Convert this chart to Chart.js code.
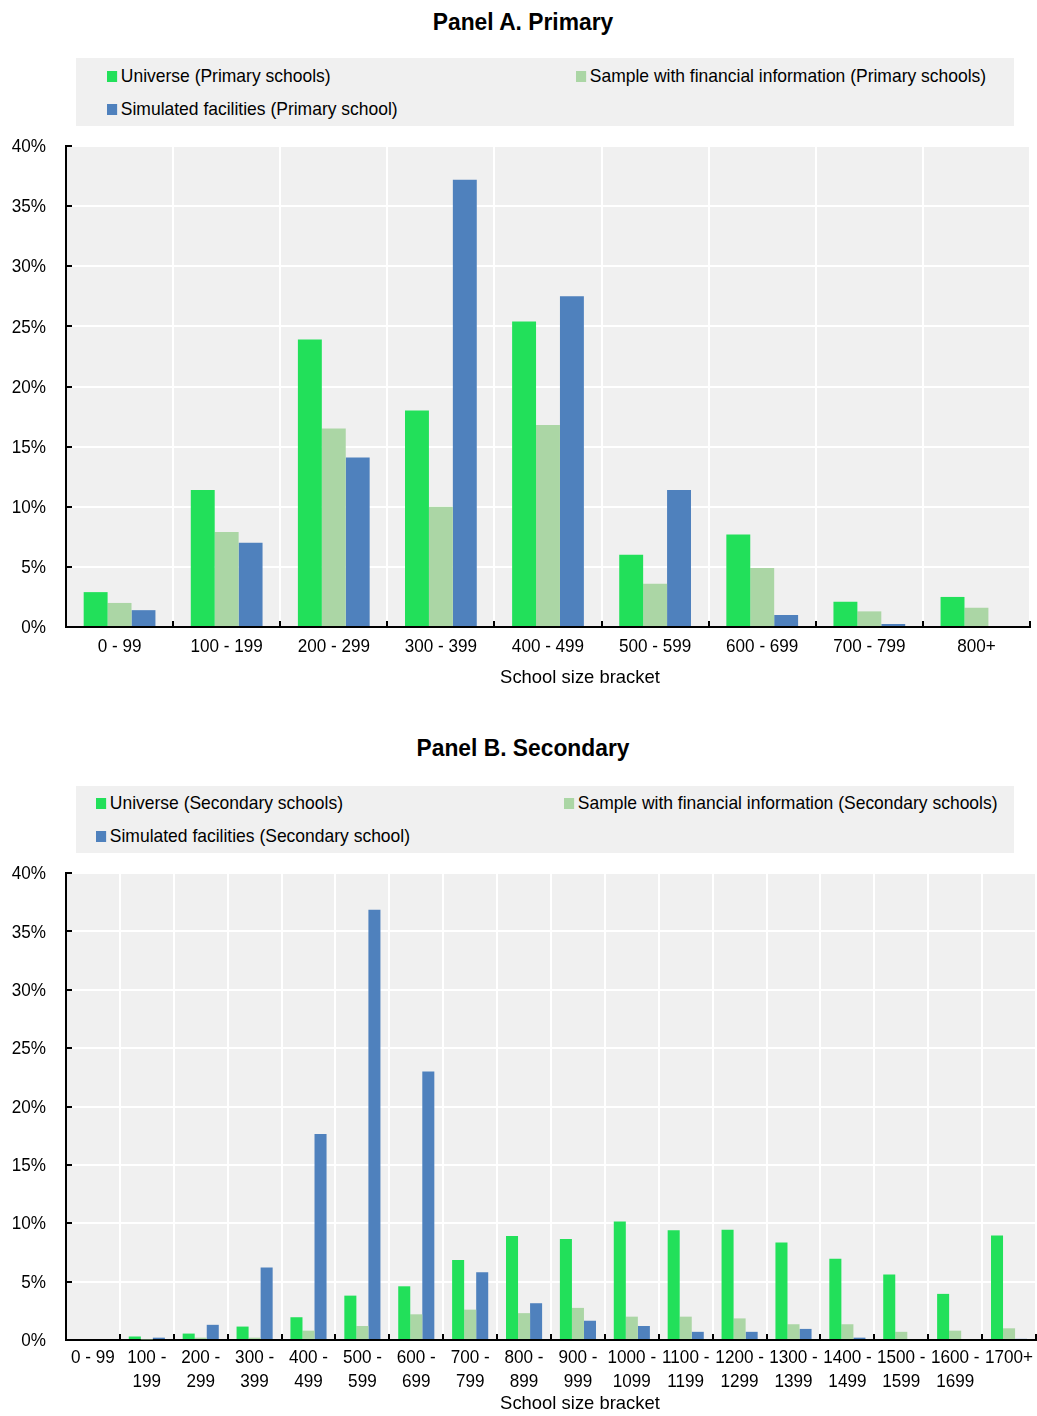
<!DOCTYPE html>
<html>
<head>
<meta charset="utf-8">
<script src="https://cdn.jsdelivr.net/npm/chart.js@4"></script>
<style>
  html, body { margin:0; padding:0; background:#fff; }
  body { width:1037px; height:1416px; position:relative; overflow:hidden;
         font-family:"Liberation Sans", Arial, sans-serif; color:#000; }
  .title { position:absolute; left:0; width:1046px; text-align:center; font-weight:bold; font-size:24px; line-height:28px; transform:scaleX(0.95); transform-origin:523px 0; }
  .legend { position:absolute; left:76px; width:938px; background:#f0f0f0; }
  .item { position:absolute; font-size:19px; line-height:22px; white-space:nowrap; transform:scaleX(0.92); transform-origin:0 0; }
  .sw { display:inline-block; width:11px; height:11px; margin-right:4px; vertical-align:0px; }
  .axtitle { position:absolute; width:300px; text-align:center; font-size:19px; line-height:22px; transform:scaleX(0.97); }
  canvas { position:absolute; left:0; }
</style>
</head>
<body>
<div class="title" style="top:8px;">Panel A. Primary</div>
<div class="legend" style="top:58px;height:68px;">
  <div class="item" style="left:31px;top:7px;"><span class="sw" style="background:#22E05A"></span>Universe (Primary schools)</div>
  <div class="item" style="left:500px;top:7px;"><span class="sw" style="background:#ABD6A5"></span>Sample with financial information (Primary schools)</div>
  <div class="item" style="left:31px;top:40px;"><span class="sw" style="background:#4F81BD"></span>Simulated facilities (Primary school)</div>
</div>
<canvas id="cA" width="1037" height="540" style="top:136px;"></canvas>
<div class="axtitle" style="left:430px;top:666px;">School size bracket</div>

<div class="title" style="top:734px;">Panel B. Secondary</div>
<div class="legend" style="top:786px;height:67px;">
  <div class="item" style="left:20px;top:6px;"><span class="sw" style="background:#22E05A"></span>Universe (Secondary schools)</div>
  <div class="item" style="left:488px;top:6px;"><span class="sw" style="background:#ABD6A5"></span>Sample with financial information (Secondary schools)</div>
  <div class="item" style="left:20px;top:39px;"><span class="sw" style="background:#4F81BD"></span>Simulated facilities (Secondary school)</div>
</div>
<canvas id="cB" width="1037" height="540" style="top:863px;"></canvas>
<div class="axtitle" style="left:430px;top:1392px;">School size bracket</div>

<script>
// ---------- Data ----------
const categoriesA = ['0 - 99','100 - 199','200 - 299','300 - 399','400 - 499','500 - 599','600 - 699','700 - 799','800+'];
const universeA   = [2.9, 11.4, 23.9, 18.0, 25.4, 6.0, 7.7, 2.1, 2.5];
const sampleA     = [2.0, 7.9, 16.5, 10.0, 16.8, 3.6, 4.9, 1.3, 1.6];
const simulatedA  = [1.4, 7.0, 14.1, 37.2, 27.5, 11.4, 1.0, 0.25, 0];

const categoriesB = ['0 - 99',['100 -','199'],['200 -','299'],['300 -','399'],['400 -','499'],['500 -','599'],
  ['600 -','699'],['700 -','799'],['800 -','899'],['900 -','999'],['1000 -','1099'],['1100 -','1199'],
  ['1200 -','1299'],['1300 -','1399'],['1400 -','1499'],['1500 -','1599'],['1600 -','1699'],'1700+'];
const universeB   = [0, 0.3, 0.55, 1.15, 1.95, 3.8, 4.6, 6.85, 8.9, 8.65, 10.15, 9.4, 9.45, 8.35, 6.95, 5.6, 3.95, 8.95];
const sampleB     = [0, 0.05, 0.2, 0.2, 0.8, 1.2, 2.2, 2.6, 2.3, 2.75, 2.0, 2.0, 1.85, 1.35, 1.35, 0.7, 0.8, 1.0];
const simulatedB  = [0, 0.2, 1.3, 6.2, 17.65, 36.85, 23.0, 5.8, 3.15, 1.65, 1.2, 0.7, 0.7, 0.95, 0.2, 0, 0, 0.1];

const yTicks = [0,5,10,15,20,25,30,35,40];

const GREEN = '#22E05A', LIGHT = '#ABD6A5', BLUE = '#4F81BD';
const FONT = '"Liberation Sans", Arial, sans-serif';
const SX = 0.9; // horizontal condensing to mimic a narrow face

const plotBg = {
  id:'plotBg',
  beforeDraw(chart){
    const {ctx, chartArea:a} = chart;
    ctx.save(); ctx.fillStyle = '#f0f0f0';
    ctx.fillRect(a.left, a.top, a.right - a.left, a.bottom - a.top);
    ctx.restore();
  }
};
function drawNarrow(ctx, text, x, y) {
  ctx.save(); ctx.translate(x, y); ctx.scale(SX, 1); ctx.fillText(text, 0, 0); ctx.restore();
}
const axisDecor = {
  id:'axisDecor',
  afterDraw(chart, args, opts){
    const {ctx, chartArea:a, scales:{x, y}} = chart;
    ctx.save(); ctx.strokeStyle = '#000'; ctx.lineWidth = 2;
    ctx.beginPath();
    y.ticks.forEach(t => { const py = Math.round(y.getPixelForValue(t.value)); ctx.moveTo(a.left - 1, py); ctx.lineTo(a.left + 6, py); });
    for (let i = 0; i <= x.ticks.length; i++) {
      const px = Math.round(x.getPixelForValue(i - 0.5));
      ctx.moveTo(px, a.bottom + 1); ctx.lineTo(px, a.bottom - 6);
    }
    ctx.stroke();
    // tick labels
    ctx.fillStyle = '#000';
    ctx.font = '19px ' + FONT;
    ctx.textAlign = 'right'; ctx.textBaseline = 'middle';
    y.ticks.forEach(t => drawNarrow(ctx, t.value + '%', a.left - 20, y.getPixelForValue(t.value) + 1));
    ctx.textAlign = 'center';
    chart.data.labels.forEach((lab, i) => {
      const px = x.getPixelForTick(i);
      const lines = Array.isArray(lab) ? lab : [lab];
      lines.forEach((ln, k) => drawNarrow(ctx, ln, px, a.bottom + opts.firstLine + k * 24));
    });
    ctx.restore();
  }
};

function makeChart(id, cats, u, s, m, labels, xHeight, firstLine, rightPad) {
  return new Chart(document.getElementById(id), {
    type:'bar',
    data:{
      labels:cats,
      datasets:[
        {label:labels[0], data:u, backgroundColor:GREEN},
        {label:labels[1], data:s, backgroundColor:LIGHT},
        {label:labels[2], data:m, backgroundColor:BLUE}
      ]
    },
    options:{
      responsive:false, animation:false,
      layout:{autoPadding:false, padding:{top:10, right:rightPad, left:0, bottom:0}},
      datasets:{bar:{categoryPercentage:0.67, barPercentage:1.0, borderWidth:0}},
      plugins:{legend:{display:false}, tooltip:{enabled:false}, axisDecor:{firstLine:firstLine}},
      scales:{
        x:{
          grid:{color:'#ffffff', lineWidth:2, drawTicks:false, offset:true},
          border:{display:true, color:'#000', width:2},
          ticks:{display:false, autoSkip:false},
          afterFit(sc){ sc.height = xHeight; }
        },
        y:{
          min:0, max:40,
          afterBuildTicks(sc){ sc.ticks = yTicks.map(v => ({value:v})); },
          grid:{color:'#ffffff', lineWidth:2, drawTicks:false},
          border:{display:true, color:'#000', width:2},
          ticks:{display:false},
          afterFit(sc){ sc.width = 66; }
        }
      }
    },
    plugins:[plotBg, axisDecor]
  });
}

makeChart('cA', categoriesA, universeA, sampleA, simulatedA,
  ['Universe (Primary schools)','Sample with financial information (Primary schools)','Simulated facilities (Primary school)'],
  49, 20, 7);
makeChart('cB', categoriesB, universeB, sampleB, simulatedB,
  ['Universe (Secondary schools)','Sample with financial information (Secondary schools)','Simulated facilities (Secondary school)'],
  63, 18, 1);
</script>
</body>
</html>
